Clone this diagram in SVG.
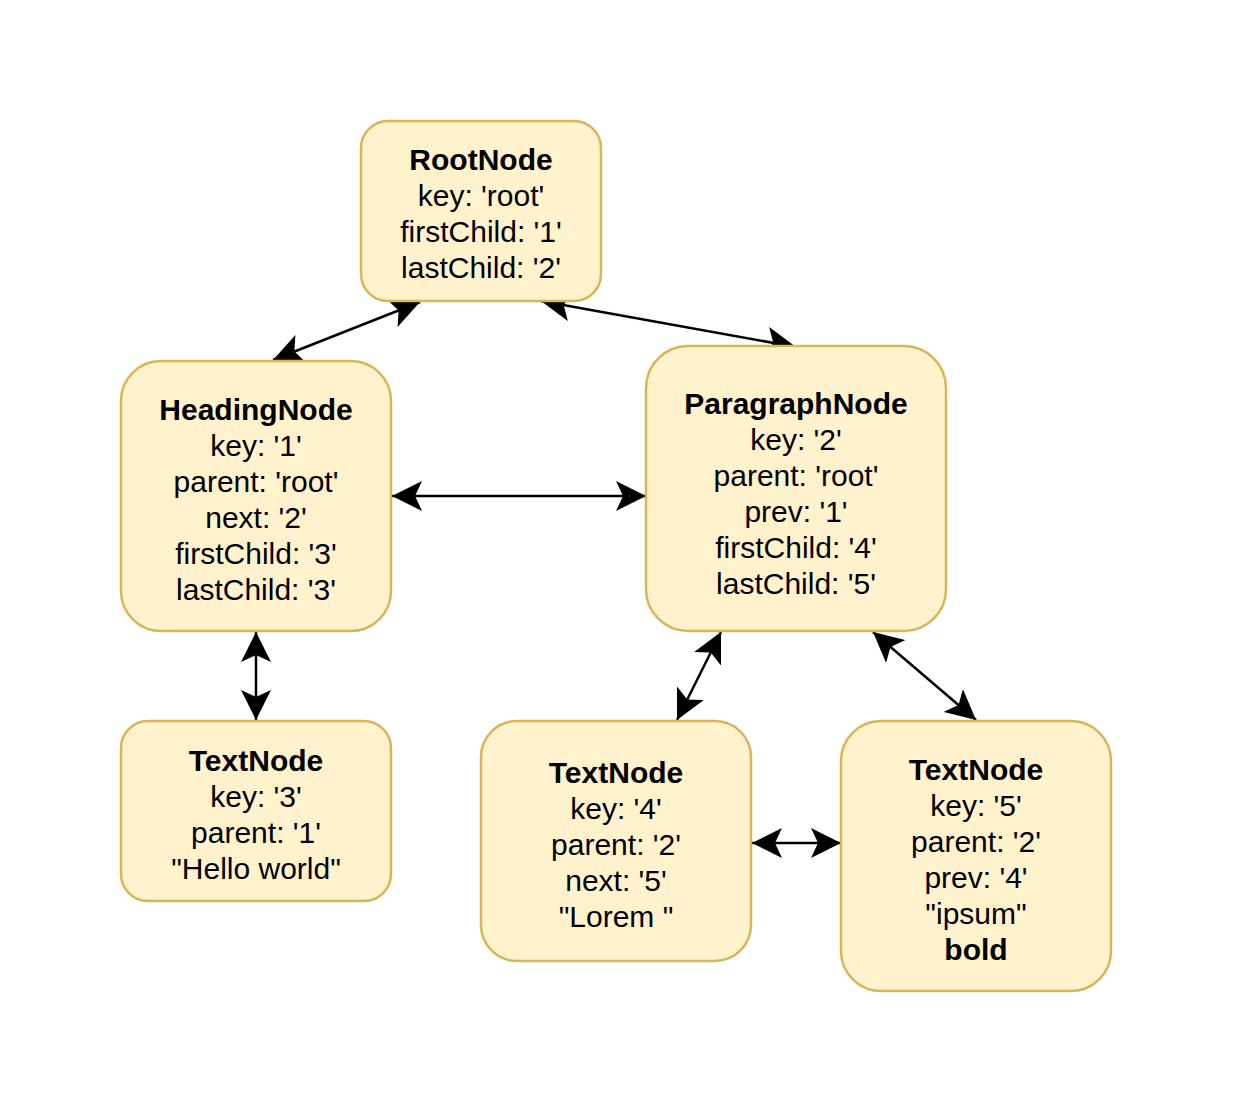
<svg xmlns="http://www.w3.org/2000/svg" width="1233" height="1113" viewBox="0 0 1233 1113">
<style>
.box{fill:#fff2cc;stroke:#d6b656;stroke-width:2.5}
.t{font-family:"Liberation Sans",Arial,Helvetica,sans-serif;font-size:30px;fill:#000;text-anchor:middle}
.b{font-weight:bold}
.c{fill:none;stroke:#000;stroke-width:2.5}
</style>
<defs>
<marker id="ar" viewBox="0 0 30 30" refX="30" refY="15" markerWidth="30" markerHeight="30" markerUnits="userSpaceOnUse" orient="auto-start-reverse">
<path d="M0,0 L30,15 L0,30 L7,15 Z" fill="#000"/>
</marker>
</defs>
<rect width="1233" height="1113" fill="#fff"/>
<g id="connectors">
<line class="c" x1="420" y1="302" x2="273" y2="360" marker-start="url(#ar)" marker-end="url(#ar)"/>
<line class="c" x1="541" y1="301" x2="796" y2="347" marker-start="url(#ar)" marker-end="url(#ar)"/>
<line class="c" x1="392" y1="496" x2="646" y2="496" marker-start="url(#ar)" marker-end="url(#ar)"/>
<line class="c" x1="256" y1="632" x2="256" y2="720" marker-start="url(#ar)" marker-end="url(#ar)"/>
<line class="c" x1="721" y1="632" x2="677" y2="720" marker-start="url(#ar)" marker-end="url(#ar)"/>
<line class="c" x1="873" y1="632" x2="976" y2="720" marker-start="url(#ar)" marker-end="url(#ar)"/>
<line class="c" x1="752" y1="843" x2="841" y2="843" marker-start="url(#ar)" marker-end="url(#ar)"/>
</g>
<g id="root">
<rect class="box" x="361" y="121" width="240" height="180" rx="27"/>
<text class="t b" x="481" y="170">RootNode</text>
<text class="t" x="481" y="206">key: 'root'</text>
<text class="t" x="481" y="242">firstChild: '1'</text>
<text class="t" x="481" y="278">lastChild: '2'</text>
</g>
<g id="heading">
<rect class="box" x="121" y="361" width="270" height="270" rx="40"/>
<text class="t b" x="256" y="420">HeadingNode</text>
<text class="t" x="256" y="456">key: '1'</text>
<text class="t" x="256" y="492">parent: 'root'</text>
<text class="t" x="256" y="528">next: '2'</text>
<text class="t" x="256" y="564">firstChild: '3'</text>
<text class="t" x="256" y="600">lastChild: '3'</text>
</g>
<g id="paragraph">
<rect class="box" x="646" y="346" width="300" height="285" rx="42"/>
<text class="t b" x="796" y="414">ParagraphNode</text>
<text class="t" x="796" y="450">key: '2'</text>
<text class="t" x="796" y="486">parent: 'root'</text>
<text class="t" x="796" y="522">prev: '1'</text>
<text class="t" x="796" y="558">firstChild: '4'</text>
<text class="t" x="796" y="594">lastChild: '5'</text>
</g>
<g id="text3">
<rect class="box" x="121" y="721" width="270" height="180" rx="27"/>
<text class="t b" x="256" y="771">TextNode</text>
<text class="t" x="256" y="807">key: '3'</text>
<text class="t" x="256" y="843">parent: '1'</text>
<text class="t" x="256" y="879">"Hello world"</text>
</g>
<g id="text4">
<rect class="box" x="481" y="721" width="270" height="240" rx="36"/>
<text class="t b" x="616" y="783">TextNode</text>
<text class="t" x="616" y="819">key: '4'</text>
<text class="t" x="616" y="855">parent: '2'</text>
<text class="t" x="616" y="891">next: '5'</text>
<text class="t" x="616" y="927">"Lorem "</text>
</g>
<g id="text5">
<rect class="box" x="841" y="721" width="270" height="270" rx="40"/>
<text class="t b" x="976" y="780">TextNode</text>
<text class="t" x="976" y="816">key: '5'</text>
<text class="t" x="976" y="852">parent: '2'</text>
<text class="t" x="976" y="888">prev: '4'</text>
<text class="t" x="976" y="924">"ipsum"</text>
<text class="t b" x="976" y="960">bold</text>
</g>
</svg>
